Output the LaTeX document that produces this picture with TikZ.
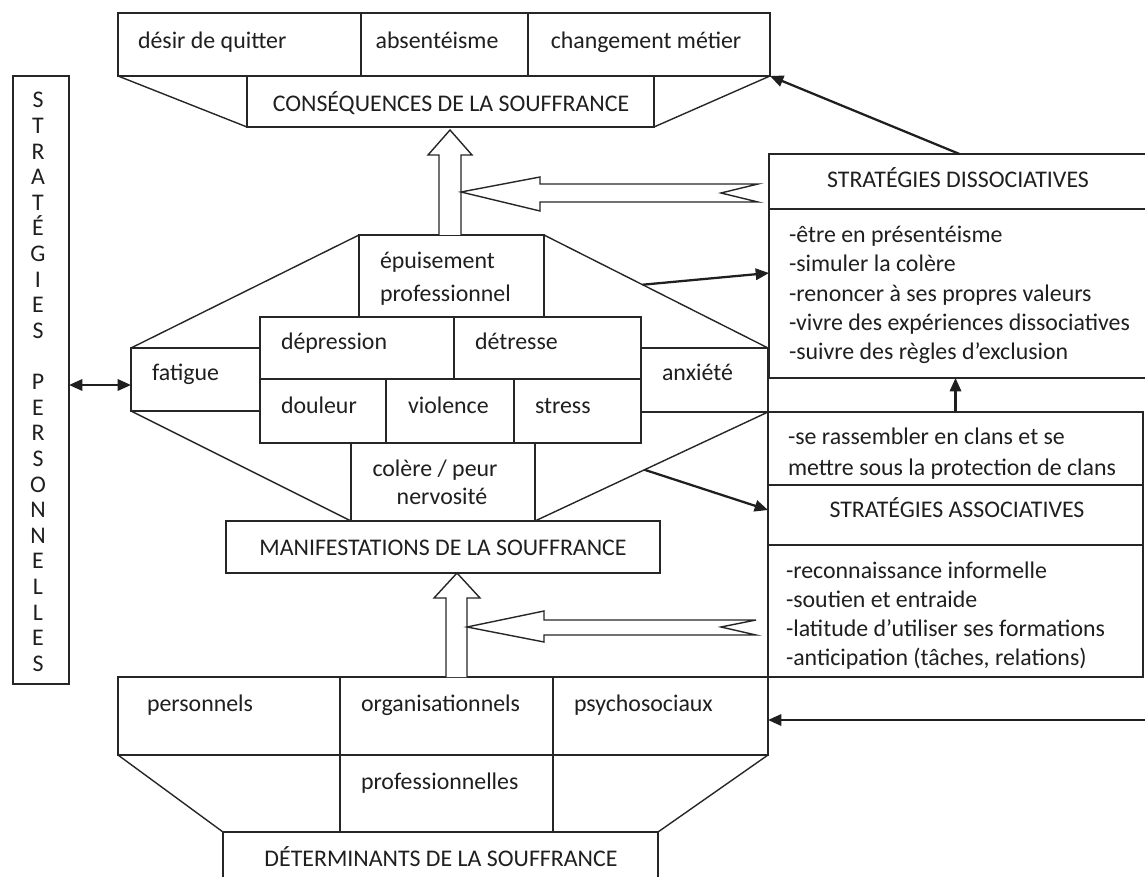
\documentclass[tikz,border=0pt]{standalone}
\usepackage{fontspec}
\setmainfont{Carlito}
\usetikzlibrary{arrows.meta,fit,calc}
\begin{document}
\begin{tikzpicture}[x=0.75pt,y=-0.75pt,
  ln/.style={draw=black!85,line width=1.05pt},
  bx/.style={ln,rectangle,inner sep=0pt,outer sep=0pt,fill=white},
  txt/.style={inner sep=0pt,outer sep=0pt,font=\fontsize{17.9}{21.8}\selectfont,text=black!88},
  blk/.style={draw=black!88,line width=1.7pt,-{Triangle[length=10pt,width=8.5pt]}},
  blkboth/.style={draw=black!88,line width=1.7pt,{Triangle[length=10pt,width=8.5pt]}-{Triangle[length=10pt,width=8.5pt]}},
  hollow/.style={draw=black!85,line width=1.05pt,fill=white,line join=miter}
]
\useasboundingbox (0,0) rectangle (1145,877);

% ---------- consequences ----------
\node[bx,fit={(118,13) (770,76)}] (conrow) {};
\node[bx,fit={(247,76) (654,127)}] (conbox) {};
\draw[ln] (conrow.south west) -- (conbox.south west);
\draw[ln] (conrow.south east) -- (conbox.south east);
\draw[ln] (361,13) -- (361,76);
\draw[ln] (528,13) -- (528,76);
\node[txt,anchor=base west] (c1) at (138,49) {désir de quitter};
\node[txt,anchor=base] (c2) at (437,49) {absentéisme};
\node[txt,anchor=base] (c3) at (646,49) {changement métier};
\node[txt,anchor=base] (c4) at (451,112) {CONSÉQUENCES DE LA SOUFFRANCE};

% ---------- personal strategies column ----------
\node[bx,fit={(13,76) (69,684)}] (perso) {};
\foreach \ch [count=\i from 0] in {S,T,R,A,T,É,G,I,E,S}
  \node[txt,anchor=base] (pa\i) at (38,{108+25.6*\i}) {\ch};
\foreach \ch [count=\i from 11] in {P,E,R,S,O,N,N,E,L,L,E,S}
  \node[txt,anchor=base] (pb\i) at (38,{108+25.6*\i}) {\ch};

% ---------- manifestations ----------
\node[bx,fit={(359,235) (544,317)}] (epui) {};
\node[bx,fit={(131,348) (260,411)}] (fat) {};
\node[bx,fit={(641,348) (768,412)}] (anx) {};
\node[bx,fit={(260,317) (641,443)}] (mid) {};
\node[bx,fit={(351,443) (535,521)}] (colere) {};
\node[bx,fit={(226,521) (660,573)}] (manif) {};
\draw[ln] (epui.north west) -- (fat.north west);
\draw[ln] (fat.south west) -- (colere.south west);
\draw[ln] (epui.north east) -- (anx.north east);
\draw[ln] (anx.south east) -- (colere.south east);
\draw[ln] (260,379) -- (641,379);
\draw[ln] (454,317) -- (454,379);
\draw[ln] (386,379) -- (386,443);
\draw[ln] (514,379) -- (514,443);

\node[txt,anchor=base west] (m1) at (380,268) {épuisement};
\node[txt,anchor=base west] (m2) at (380,301) {professionnel};
\node[txt,anchor=base west] (m3) at (281,349) {dépression};
\node[txt,anchor=base west] (m4) at (475,349) {détresse};
\node[txt,anchor=base west] (m5) at (152,380) {fatigue};
\node[txt,anchor=base west] (m6) at (662,380) {anxiété};
\node[txt,anchor=base west] (m7) at (281,413) {douleur};
\node[txt,anchor=base west] (m8) at (408,413) {violence};
\node[txt,anchor=base west] (m9) at (535,413) {stress};
\node[txt,anchor=base] (m10) at (435,476) {colère / peur};
\node[txt,anchor=base] (m11) at (442,504) {nervosité};
\node[txt,anchor=base] (m12) at (443,555) {MANIFESTATIONS DE LA SOUFFRANCE};

% ---------- dissociative strategies ----------
\node[bx,fit={(769,154) (1150,209)}] (dishead) {};
\node[bx,fit={(769,209) (1150,378)}] (dislist) {};
\node[txt,anchor=base] (s0) at (958,188) {STRATÉGIES DISSOCIATIVES};
\node[txt,anchor=base west] (s1) at (789,243) {-être en présentéisme};
\node[txt,anchor=base west] (s2) at (789,272) {-simuler la colère};
\node[txt,anchor=base west] (s3) at (789,301) {-renoncer à ses propres valeurs};
\node[txt,anchor=base west] (s4) at (789,330) {-vivre des expériences dissociatives};
\node[txt,anchor=base west] (s5) at (789,359) {-suivre des règles d’exclusion};

% ---------- associative strategies ----------
\node[bx,fit={(768,412) (1143,485)}] (clans) {};
\begin{scope}
  \clip (768,412) rectangle (1143,478);
  \node[txt,anchor=base west] (k1) at (788,444) {-se rassembler en clans et se};
  \node[txt,anchor=base west] (k2) at (788,475) {mettre sous la protection de clans};
\end{scope}
\node[bx,fit={(768,485) (1143,545)}] (ashead) {};
\node[bx,fit={(768,545) (1143,677)}] (aslist) {};
\node[txt,anchor=base] (a0) at (957,517) {STRATÉGIES ASSOCIATIVES};
\begin{scope}
  \clip (768,545) rectangle (1143,668);
  \node[txt,anchor=base west] (a1) at (786,578) {-reconnaissance informelle};
  \node[txt,anchor=base west] (a2) at (786,607) {-soutien et entraide};
  \node[txt,anchor=base west] (a3) at (786,636) {-latitude d’utiliser ses formations};
  \node[txt,anchor=base west] (a4) at (786,665) {-anticipation (tâches, relations)};
\end{scope}

% ---------- determinants ----------
\node[bx,fit={(118,677) (768,755)}] (detrow) {};
\node[bx,fit={(223,832) (658,895)}] (detbox) {};
\draw[ln] (detrow.south west) -- (detbox.north west);
\draw[ln] (detrow.south east) -- (detbox.north east);
\draw[ln] (340,677) -- (340,832);
\draw[ln] (553,677) -- (553,832);
\node[txt,anchor=base west] (d1) at (147,711) {personnels};
\node[txt,anchor=base west] (d2) at (361,711) {organisationnels};
\node[txt,anchor=base west] (d3) at (574,711) {psychosociaux};
\node[txt,anchor=base west] (d4) at (361,789) {professionnelles};
\node[txt,anchor=base] (d5) at (441,866) {DÉTERMINANTS DE LA SOUFFRANCE};

% ---------- hollow block arrows ----------
\draw[hollow] (439,235) -- (439,155) -- (428,155) -- (450,130) -- (472,155) -- (461,155) -- (461,235);
\draw[hollow] (461,192) -- (540,177) -- (540,184) -- (758,184) -- (721,193) -- (758,202) -- (540,202) -- (540,211) -- cycle;
\draw[hollow] (446,677) -- (446,598) -- (434,598) -- (457,573) -- (480,598) -- (467,598) -- (467,677);
\draw[hollow] (467,627) -- (544,611) -- (544,620) -- (756,620) -- (721,627) -- (756,635) -- (544,635) -- (544,642) -- cycle;

% ---------- black connectors ----------
\coordinate (q1) at ($(epui.north east)!0.44!(anx.north east)$);
\coordinate (q2) at ($(anx.south east)!0.53!(colere.south east)$);
\coordinate (rin) at (1150,720);
\draw[blk] (dishead.north) -- (conrow.south east);
\draw[blk] (q1) -- ($(dislist.north west)+(0,64)$);
\draw[blk] (clans.north) -- (clans.north |- dislist.south);
\draw[blk] (q2) -- ($(ashead.north west)+(0,25)$);
\draw[blkboth] (perso.east |- 0,385) -- (fat.west |- 0,385);
\draw[blk] (rin) -- (detrow.east |- rin);
\end{tikzpicture}
\end{document}
